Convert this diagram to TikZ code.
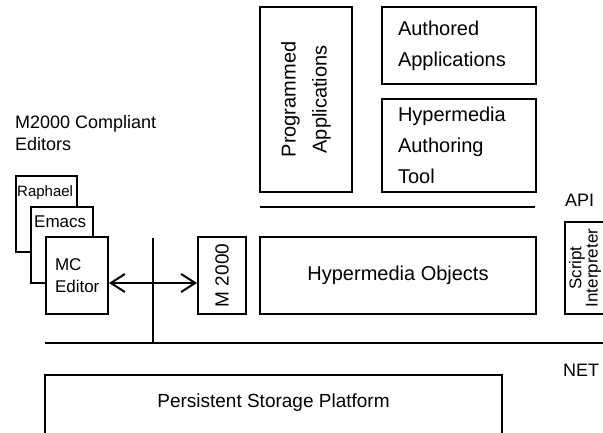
\documentclass[tikz,border=0pt]{standalone}
\usepackage{fontspec}
\setmainfont{Liberation Sans}
\usetikzlibrary{arrows.meta}

\tikzset{
  box/.style={draw, line width=2pt, fill=white, rectangle, inner sep=0pt},
  lbl/.style={inner sep=0pt},
  bigfont/.style={font=\fontsize{20}{31}\selectfont},
  midfont/.style={font=\fontsize{18}{22}\selectfont},
  rule/.style={line width=2pt},
}

\begin{document}
\begin{tikzpicture}[x=1pt, y=-1pt]
  \useasboundingbox (0,0) rectangle (603,433);

  % application layer (rotated boxes: width runs along the text)
  \node (prog) [box, bigfont, minimum width=185pt, minimum height=92pt, rotate=90, align=center]
        at (306,99.5) {Programmed\\Applications};
  \node (auth) [box, bigfont, minimum width=154pt, minimum height=77pt,
        text width=122pt, inner xsep=16pt, align=left]
        at (459,45.5) {Authored\\Applications};
  \node (hat) [box, bigfont, minimum width=154pt, minimum height=93pt,
        text width=122pt, inner xsep=16pt, align=left]
        at (459,145.5) {Hypermedia\\Authoring\\Tool};

  % API boundary
  \coordinate (apiL) at (260,207);
  \coordinate (apiR) at (535,207);
  \draw[rule] (apiL) -- (apiR);
  \node (api) [lbl, midfont, anchor=west] at (565,200) {API};

  % object layer
  \node (hobj) [box, bigfont, minimum width=276pt, minimum height=77pt]
        at (398,275.5) {Hypermedia Objects};
  \node (m2k) [box, font=\fontsize{19}{22}\selectfont, minimum width=77pt, minimum height=48pt, rotate=90]
        at (222,275.5) {M 2000};
  \node (script) [box, font=\fontsize{17}{15}\selectfont, minimum width=92pt, minimum height=40pt,
        rotate=90, align=center]
        at (585,268) {Script\\Interpreter};

  % editors
  \node (m2kEd) [lbl, midfont, anchor=west, align=left] at (15,133) {M2000 Compliant\\Editors};
  \node (raph) [box, minimum width=61pt, minimum height=76pt] at (46.5,214) {};
  \node (raphT) [lbl, font=\fontsize{15}{18}\selectfont, anchor=west] at (17,193) {Raphael};
  \node (emacs) [box, minimum width=62pt, minimum height=76pt] at (62,245) {};
  \node (emacsT) [lbl, font=\fontsize{17}{20}\selectfont, anchor=west] at (34,222) {Emacs};
  \node (mc) [box, font=\fontsize{17}{22}\selectfont, minimum width=62pt, minimum height=77pt,
        text width=44pt, inner xsep=9pt, align=left]
        at (77,275.5) {MC\\Editor};

  % network bus
  \coordinate (netL) at (45,343);
  \coordinate (netR) at (610,343);
  \coordinate (busTop) at (153,238);
  \draw[rule] (netL) -- (netR);
  \draw[rule] (busTop) -- (busTop |- netL);
  \node (net) [lbl, midfont, anchor=west] at (563,370) {NET};

  % editor link to the M 2000 interface
  \coordinate (linkY) at (0,283);
  \draw[rule, {Straight Barb[length=14pt,width=18pt]}-{Straight Barb[length=14pt,width=18pt]}]
        (mc.east |- linkY) -- (m2k.north |- linkY);

  % storage layer
  \node (persist) [box, minimum width=457pt, minimum height=70pt] at (273.5,410) {};
  \node (persistT) [lbl, font=\fontsize{19}{22}\selectfont] at (273.5,403) {Persistent Storage Platform};
\end{tikzpicture}
\end{document}
